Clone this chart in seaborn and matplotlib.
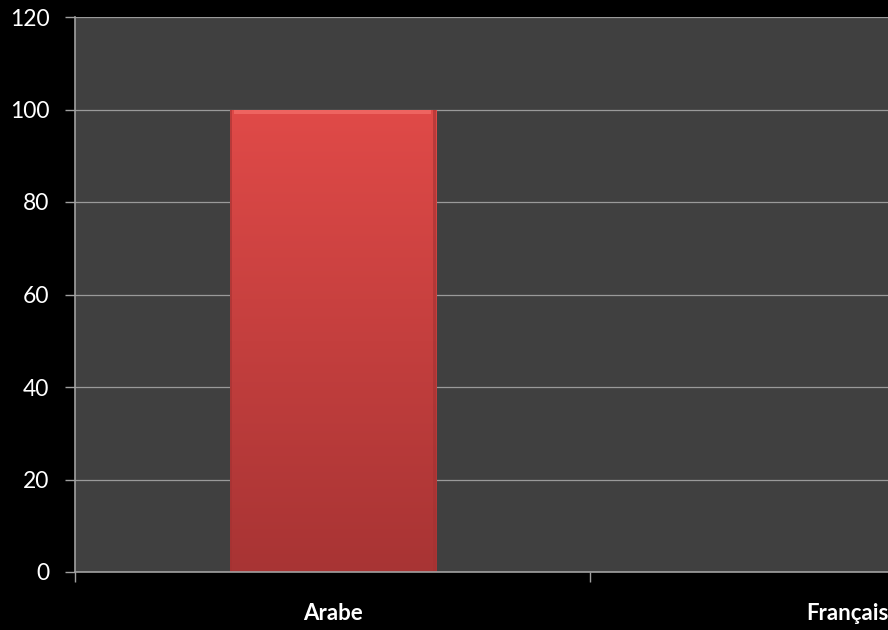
import matplotlib
matplotlib.use("Agg")
import matplotlib.pyplot as plt
import seaborn as sns
import numpy as np
import pandas as pd
from matplotlib.colors import LinearSegmentedColormap

categories = ["Arabe", "Français"]
values = [100, 0]
yticks = [0, 20, 40, 60, 80, 100, 120]

sns.set_theme(style="dark")
plt.rcParams['font.family'] = ['Lato', 'DejaVu Sans']

W, H = 888, 630
fig = plt.figure(figsize=(W / 100, H / 100), dpi=100, facecolor="black")
left, right, top, bottom = 75, 1105, 17, 572
ax = fig.add_axes([left / W, 1 - bottom / H, (right - left) / W, (bottom - top) / H])
ax.set_facecolor("#404040")

df = pd.DataFrame({"cat": categories, "val": values})
sns.barplot(data=df, x="cat", y="val", color="#D54343", width=0.4, ax=ax,
            edgecolor="none", saturation=1)

# gradient over bars
cmap = LinearSegmentedColormap.from_list("g", ["#A83434", "#E04A48"])
grad = np.linspace(0, 1, 256).reshape(-1, 1)
for p in ax.patches:
    x0, y0 = p.get_x(), p.get_y()
    w, h = p.get_width(), p.get_height()
    if h <= 0:
        continue
    im = ax.imshow(grad, cmap=cmap, aspect="auto", origin="lower",
                   extent=[x0, x0 + w, y0, y0 + h], zorder=p.get_zorder() + 0.1)
    im.set_clip_path(p)
    # subtle top bevel
    ax.fill_between([x0 + w * 0.02, x0 + w * 0.98], y0 + h * 0.99, y0 + h,
                    color="#EE6460", lw=0, zorder=p.get_zorder() + 0.2)
    # darker side edges
    ax.fill_between([x0, x0 + w * 0.012], y0, y0 + h, color="#A33232", lw=0,
                    alpha=0.6, zorder=p.get_zorder() + 0.2)
    ax.fill_between([x0 + w * 0.988, x0 + w], y0, y0 + h, color="#A33232", lw=0,
                    alpha=0.6, zorder=p.get_zorder() + 0.2)

ax.set_xlim(-0.5, 1.5)
ax.set_ylim(0, 120)
ax.set_yticks(yticks)
ax.set_yticklabels([str(t) for t in yticks])
ax.set_xticks([-0.5, 0.5, 1.5], minor=False)
ax.set_xticklabels([])
ax.set_xticks([0, 1], minor=True)
ax.set_xticklabels(categories, minor=True)
ax.tick_params(axis="x", which="minor", length=0, pad=22, labelsize=16,
               labelcolor="white")
ax.tick_params(axis="x", which="major", length=7, width=1, color="#a0a0a0",
               direction="out", bottom=True)
ax.tick_params(axis="y", length=7, width=1, color="#a0a0a0", direction="out",
               left=True, pad=11.5, labelsize=16.5, labelcolor="white")
for lbl in ax.get_xticklabels(minor=True):
    lbl.set_fontweight("bold")

ax.grid(axis="y", color="#9a9a9a", lw=0.9)
ax.grid(axis="x", visible=False)
ax.set_axisbelow(True)
for s in ["top", "right"]:
    ax.spines[s].set_visible(False)
for s in ["left", "bottom"]:
    ax.spines[s].set_color("#a0a0a0")
    ax.spines[s].set_linewidth(1.2)
ax.set_xlabel("")
ax.set_ylabel("")

fig.savefig("out.png", dpi=100, facecolor="black")
